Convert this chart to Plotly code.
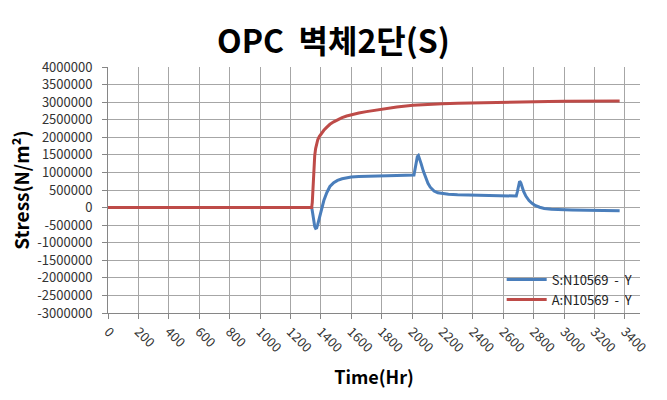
import plotly.graph_objects as go

# Data
time_s = [0, 1000, 1340, 1345, 1350, 1355, 1360, 1366, 1373, 1380, 1390, 1400, 1420, 1440, 1460, 1485, 1510, 1540, 1570, 1600, 1650, 1700, 1800, 1900, 2013, 2020, 2028, 2035, 2042, 2050, 2060, 2075, 2090, 2105, 2120, 2145, 2170, 2200, 2240, 2300, 2370, 2500, 2600, 2686, 2693, 2700, 2708, 2716, 2725, 2735, 2750, 2770, 2790, 2810, 2840, 2870, 2917, 2970, 3050, 3150, 3250, 3366]
stress_s = [0, 0, 0, -120000, -300000, -450000, -540000, -590000, -580000, -480000, -300000, -120000, 200000, 430000, 600000, 710000, 775000, 820000, 850000, 868000, 885000, 895000, 905000, 915000, 928000, 1080000, 1300000, 1450000, 1480000, 1400000, 1250000, 1030000, 850000, 690000, 580000, 470000, 420000, 395000, 378000, 365000, 357000, 345000, 336000, 328000, 450000, 620000, 750000, 700000, 580000, 450000, 320000, 200000, 120000, 60000, 10000, -25000, -45000, -58000, -68000, -76000, -84000, -91000]

time_a = [0, 1000, 1340, 1344, 1348, 1352, 1356, 1360, 1366, 1372, 1380, 1390, 1400, 1420, 1440, 1460, 1485, 1510, 1540, 1570, 1597, 1650, 1700, 1750, 1802, 1900, 2006, 2100, 2200, 2300, 2402, 2500, 2600, 2700, 2805, 2900, 3000, 3100, 3200, 3366]
stress_a = [0, 0, 0, 150000, 500000, 900000, 1250000, 1480000, 1680000, 1810000, 1930000, 2020000, 2090000, 2200000, 2290000, 2370000, 2440000, 2500000, 2560000, 2605000, 2640000, 2690000, 2730000, 2765000, 2800000, 2860000, 2910000, 2935000, 2952000, 2965000, 2977000, 2987000, 2997000, 3006000, 3014000, 3019000, 3024000, 3027000, 3030000, 3034000]

y_ticks = list(range(-3000000, 4000001, 500000))
x_ticks = list(range(0, 3401, 200))

fig = go.Figure()
fig.add_trace(go.Scatter(x=time_s, y=stress_s, mode="lines", name="S:N10569  -  Y",
                         line=dict(color="#4a7ebb", width=3)))
fig.add_trace(go.Scatter(x=time_a, y=stress_a, mode="lines", name="A:N10569  -  Y",
                         line=dict(color="#be4b48", width=3)))

font_main = "Noto Sans CJK KR"
fig.update_layout(
    width=667, height=400,
    margin=dict(l=108, r=27, t=67, b=87),
    paper_bgcolor="white", plot_bgcolor="white",
    title=dict(text="<b>OPC  벽체2단(S)</b>", x=0.5, xanchor="center", y=0.895, yanchor="middle",
               font=dict(family=font_main, size=32, color="black")),
    showlegend=True,
    legend=dict(x=0.74, y=0.095, xanchor="left", yanchor="middle", bgcolor="rgba(0,0,0,0)",
                font=dict(family=font_main, size=13, color="#222"), tracegroupgap=2, itemwidth=40),
    font=dict(family=font_main, size=13, color="#333"),
)
fig.update_xaxes(
    range=[0, 3500], tickvals=x_ticks, ticktext=[str(v) for v in x_ticks], tickangle=45,
    showgrid=True, gridcolor="#a6a6a6", gridwidth=1,
    showline=True, linecolor="#868686", linewidth=1, ticks="outside", ticklen=5, tickcolor="#868686",
    zeroline=False, tickfont=dict(size=13, color="#333"),
    title=dict(text="<b>Time(Hr)</b>", font=dict(family=font_main, size=18, color="black"), standoff=16),
)
fig.update_yaxes(
    range=[-3000000, 4000000], tickvals=y_ticks, ticktext=[str(v) for v in y_ticks],
    showgrid=True, gridcolor="#a6a6a6", gridwidth=1,
    showline=True, linecolor="#868686", linewidth=1, ticks="outside", ticklen=5, tickcolor="#868686",
    ticklabelstandoff=7,
    zeroline=False, tickfont=dict(size=13, color="#333"),
    title=dict(text="<b>Stress(N/m²)</b>", font=dict(family=font_main, size=19, color="black"), standoff=2),
)
fig.write_html("out.html")
